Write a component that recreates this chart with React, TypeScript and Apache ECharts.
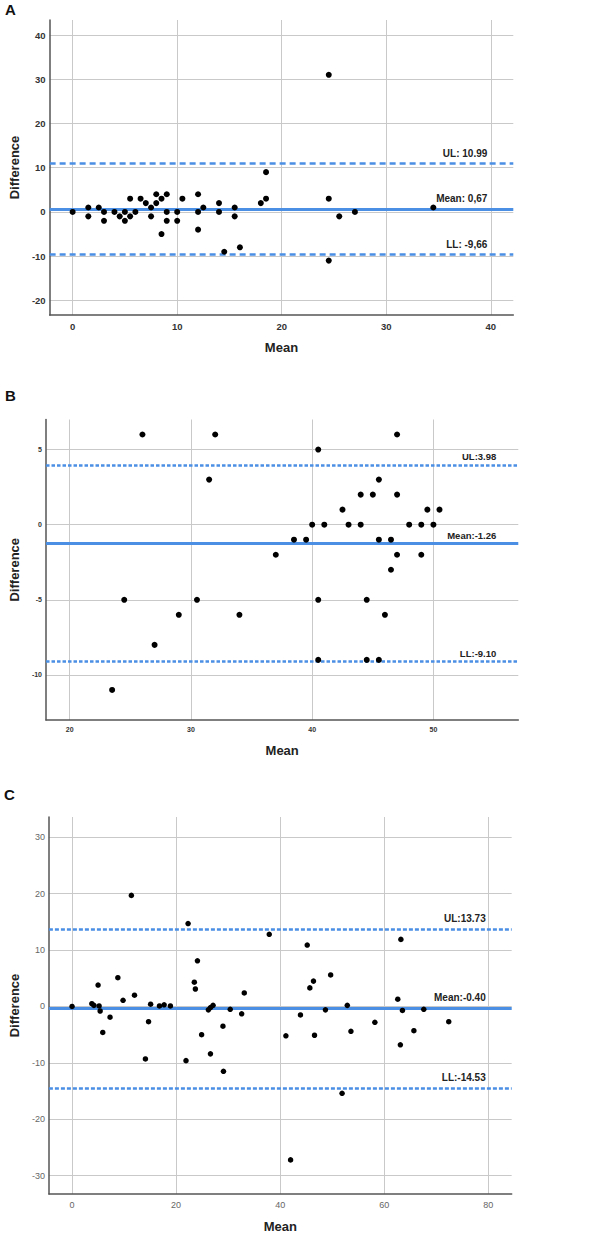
import React, { useEffect, useRef } from "react";
import * as echarts from "echarts";

// ---- Panel A data ----
const aMean = [0,1.5,1.5,2.5,3,3,4,4.5,5,5,5.5,5.5,6,6.5,7,7.5,7.5,8,8,8.5,8.5,9,9,9,10,10,10.5,12,12,12,12.5,14,14,14.5,15.5,15.5,16,18,18.5,18.5,24.5,24.5,24.5,25.5,27,34.5];
const aDiff = [0,1,-1,1,0,-2,0,-1,0,-2,3,-1,0,3,2,1,-1,4,2,3,-5,4,0,-2,0,-2,3,4,0,-4,1,2,0,-9,1,-1,-8,2,3,9,3,31,-11,-1,0,1];
const aLines = [10.99, 0.67, -9.66];
const aLineLabels = ["UL: 10.99", "Mean: 0,67", "LL: -9,66"];
const aXTicks = [0, 10, 20, 30, 40];
const aYTicks = [-20, -10, 0, 10, 20, 30, 40];

// ---- Panel B data ----
const bMean = [26,32,31.5,40.5,47,45.5,44,45,47,42.5,49.5,50.5,40,41,43,44,48,49,50,38.5,39.5,45.5,46.5,37,47,49,46.5,24.5,30.5,29,34,27,40.5,44.5,46,40.5,44.5,45.5,23.5];
const bDiff = [6,6,3,5,6,3,2,2,2,1,1,1,0,0,0,0,0,0,0,-1,-1,-1,-1,-2,-2,-2,-3,-5,-5,-6,-6,-8,-5,-5,-6,-9,-9,-9,-11];
const bLines = [3.98, -1.26, -9.1];
const bLineLabels = ["UL:3.98", "Mean:-1.26", "LL:-9.10"];
const bXTicks = [20, 30, 40, 50];
const bYTicks = [-10, -5, 0, 5];

// ---- Panel C data ----
const cMean = [0,3.8,4.2,5.0,5.2,5.4,5.9,7.3,8.8,9.8,11.4,12.0,14.7,15.1,16.8,17.7,18.9,22.3,23.5,23.7,24.1,24.9,26.2,26.6,27.1,29.0,30.4,32.6,33.1,37.9,41.1,43.9,45.2,45.7,46.4,46.6,48.7,49.7,52.9,53.6,58.2,62.6,63.2,63.5,65.7,67.6,72.4,14.1,21.9,26.6,29.1,42.0,51.9,63.1];
const cDiff = [0,0.5,0.2,3.8,0.1,-0.8,-4.6,-1.9,5.1,1.1,19.7,2.0,-2.7,0.4,0.1,0.3,0.1,14.7,4.3,3.1,8.1,-5.0,-0.6,-0.2,0.2,-3.5,-0.5,-1.3,2.4,12.8,-5.2,-1.5,10.9,3.3,4.5,-5.1,-0.6,5.6,0.2,-4.4,-2.8,1.3,11.9,-0.7,-4.3,-0.5,-2.7,-9.3,-9.6,-8.4,-11.5,-27.2,-15.4,-6.8];
const cLines = [13.73, -0.4, -14.53];
const cLineLabels = ["UL:13.73", "Mean:-0.40", "LL:-14.53"];
const cXTicks = [0, 20, 40, 60, 80];
const cYTicks = [-30, -20, -10, 0, 10, 20, 30];

const FONT = "'Liberation Sans', Arial, sans-serif";
const BLUE = "#4a8fe3";

type PanelCfg = {
  idx: number;
  xs: number[];
  ys: number[];
  lines: number[];
  labels: string[];
  xTicks: number[];
  yTicks: number[];
  grid: { left: number; top: number; width: number; height: number };
  xRange: [number, number];
  yRange: [number, number];
  tickFont: number;
  tickWeight: string;
  tickColor: string;
  lineLabelFont: number;
  labelDist: [number, number];
  dash: number[];
  symbolSize: number;
  xNameGap: number;
  yNameGap: number;
};

function buildPanel(p: PanelCfg) {
  const axisLine = { show: true, onZero: false, lineStyle: { color: "#555", width: 1.5 } };
  const splitLine = { show: true, lineStyle: { color: "#c9c9c9", width: 1 } };
  const titleStyle = { fontFamily: FONT, fontSize: 13, fontWeight: "bold", color: "#222" };
  const tickLabel = {
    fontFamily: FONT,
    fontSize: p.tickFont,
    fontWeight: p.tickWeight,
    color: p.tickColor,
  };
  const xAxis = {
    type: "value",
    gridIndex: p.idx,
    min: p.xRange[0],
    max: p.xRange[1],
    axisLine,
    axisTick: { show: false, customValues: p.xTicks },
    axisLabel: { customValues: p.xTicks, margin: 6, ...tickLabel },
    splitLine,
    name: "Mean",
    nameLocation: "middle",
    nameGap: p.xNameGap,
    nameTextStyle: titleStyle,
  };
  const yAxis = {
    type: "value",
    gridIndex: p.idx,
    min: p.yRange[0],
    max: p.yRange[1],
    axisLine,
    axisTick: { show: false, customValues: p.yTicks },
    axisLabel: { customValues: p.yTicks, margin: 4, ...tickLabel },
    splitLine,
    name: "Difference",
    nameLocation: "middle",
    nameGap: p.yNameGap,
    nameTextStyle: titleStyle,
  };
  const lineStyles = [
    { color: BLUE, width: 2.5, type: p.dash },
    { color: BLUE, width: 3, type: "solid" },
    { color: BLUE, width: 2.5, type: p.dash },
  ];
  const series = {
    type: "scatter",
    xAxisIndex: p.idx,
    yAxisIndex: p.idx,
    symbolSize: p.symbolSize,
    itemStyle: { color: "#000", opacity: 1 },
    data: p.xs.map((x, i) => [x, p.ys[i]]),
    z: 5,
    markLine: {
      silent: true,
      symbol: "none",
      z: 3,
      data: p.lines.map((v, i) => ({
        yAxis: v,
        lineStyle: lineStyles[i],
        label: {
          show: true,
          position: "insideEndTop",
          distance: p.labelDist,
          formatter: p.labels[i],
          fontFamily: FONT,
          fontSize: p.lineLabelFont,
          fontWeight: "bold",
          color: "#222",
        },
      })),
    },
  };
  return { grid: { ...p.grid, containLabel: false }, xAxis, yAxis, series };
}

export default function App() {
  const ref = useRef<HTMLDivElement>(null);
  useEffect(() => {
    if (!ref.current) return;
    const chart = echarts.init(ref.current, null, { renderer: "svg" });
    const panels = [
      buildPanel({
        idx: 0, xs: aMean, ys: aDiff, lines: aLines, labels: aLineLabels,
        xTicks: aXTicks, yTicks: aYTicks,
        grid: { left: 47.7, top: 20, width: 465.6, height: 295 },
        xRange: [-2.2, 42.15], yRange: [-23.3, 43.4],
        tickFont: 9.5, tickWeight: "bold", tickColor: "#333",
        lineLabelFont: 10, labelDist: [26, 5], dash: [6, 4], symbolSize: 6,
        xNameGap: 26, yNameGap: 20,
      }),
      buildPanel({
        idx: 1, xs: bMean, ys: bDiff, lines: bLines, labels: bLineLabels,
        xTicks: bXTicks, yTicks: bYTicks,
        grid: { left: 42.7, top: 419.5, width: 475.6, height: 300.5 },
        xRange: [18.05, 57], yRange: [-13, 7],
        tickFont: 7, tickWeight: "bold", tickColor: "#333",
        lineLabelFont: 9.5, labelDist: [22, 3], dash: [3.5, 2], symbolSize: 6,
        xNameGap: 24, yNameGap: 14,
      }),
      buildPanel({
        idx: 2, xs: cMean, ys: cDiff, lines: cLines, labels: cLineLabels,
        xTicks: cXTicks, yTicks: cYTicks,
        grid: { left: 43.3, top: 817, width: 468.4, height: 377 },
        xRange: [-4.45, 84.5], yRange: [-33.25, 33.6],
        tickFont: 9, tickWeight: "normal", tickColor: "#666",
        lineLabelFont: 10, labelDist: [26, 6], dash: [4, 2], symbolSize: 5.5,
        xNameGap: 26, yNameGap: 17,
      }),
    ];
    chart.setOption({
      animation: false,
      backgroundColor: "#fff",
      title: [
        { text: "A", left: 5, top: 2 },
        { text: "B", left: 5, top: 388 },
        { text: "C", left: 4, top: 787 },
      ].map((t) => ({
        ...t,
        textStyle: { fontFamily: FONT, fontSize: 15, fontWeight: "bold", color: "#111" },
        padding: 0,
      })),
      grid: panels.map((p) => p.grid),
      xAxis: panels.map((p) => p.xAxis),
      yAxis: panels.map((p) => p.yAxis),
      series: panels.map((p) => p.series),
    });
    return () => chart.dispose();
  }, []);
  return (
    <div
      ref={ref}
      style={{ position: "fixed", left: 0, top: 0, width: 607, height: 1239, background: "#fff" }}
    />
  );
}
